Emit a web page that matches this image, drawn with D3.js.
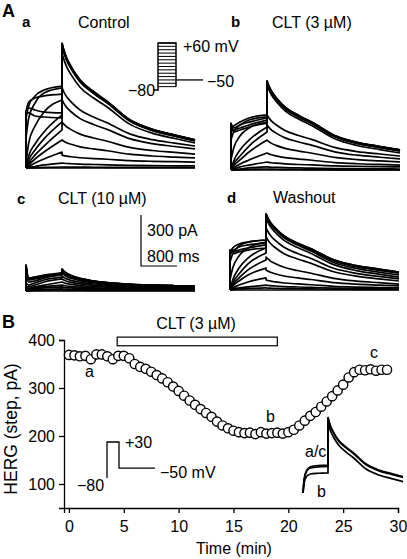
<!DOCTYPE html>
<html><head><meta charset="utf-8">
<script src="https://cdn.jsdelivr.net/npm/d3@7"></script>
<style>
body{margin:0;background:#fff}
svg{display:block;font-family:Arial,"Liberation Sans",Helvetica,sans-serif}
</style></head><body>
<svg id="chart" width="407" height="559"></svg>
<script>
// ---------- DATA ----------
// Panel A: voltage steps (mV) from -80 holding, tail at -50 mV
const stepVoltages = [-70,-60,-50,-40,-30,-20,-10,0,10,20,30,40,50,60];
// sample times (ms) in the step and in the tail
const stepTimes = [0,60,200,400,800];
const tailTimes = [0,40,100,200,400,700,1000,1500,2000,2500,2950];
// normalised tail decay profiles
const tailShapeSlow = [1,0.93,0.85,0.76,0.62,0.5,0.40,0.21,0.11,0.05,0];
const tailShapeFast = [1,0.88,0.75,0.62,0.45,0.30,0.20,0.10,0.05,0.02,0];

// Control (pA) — step current at stepTimes, tail peak and tail end per sweep
const ctrlStep = [
 [0,0,0,0,0],[0,0,2,4,6],[0,3,9,18,29],[0,9,29,53,94],[0,18,53,94,165],
 [0,29,76,129,224],[0,47,106,171,271],[0,71,141,212,312],[29,147,247,329,400],
 [176,294,382,441,471],[294,365,424,459,482],[329,388,412,424,435],
 [335,353,341,329,324],[324,324,306,300,294]];
const ctrlTailPeak = [0,6,29,76,165,271,400,471,676,718,729,735,729,724];
const ctrlTailEnd  = [0,3,12,35,59,82,112,129,147,159,165,165,165,159];

// CLT 3 µM
const clt3Step = [
 [0,0,0,0,0],[0,0,2,4,6],[0,2,6,12,18],[0,6,18,29,47],[0,12,35,59,100],
 [0,24,59,106,176],[0,35,82,141,224],[0,53,118,176,253],[59,129,200,247,282],
 [176,224,265,294,312],[247,259,282,306,324],[276,247,265,282,306],
 [271,235,247,265,294],[259,224,235,253,276]];
const clt3TailPeak = [0,6,18,47,100,176,265,324,500,518,524,524,518,512];
const clt3TailEnd  = [0,0,6,18,29,47,65,82,100,112,118,118,118,112];

// CLT 10 µM
const clt10Step = [
 [0,0,0,0,0],[0,2,3,5,6],[0,3,6,9,12],[0,6,12,18,24],[0,9,18,26,35],
 [12,15,24,35,53],[24,24,35,53,71],[47,35,47,65,82],[82,53,59,76,94],
 [118,65,71,82,100],[141,71,76,88,106],[153,76,82,94,106],
 [153,76,82,88,106],[147,71,76,82,100]];
const clt10TailPeak = [0,6,12,24,35,53,71,88,106,118,124,129,129,124];
const clt10TailEnd  = [0,3,6,9,12,15,18,21,24,26,29,29,29,29];

// Washout
const washStep = [
 [0,0,0,0,0],[0,2,6,9,12],[0,6,12,18,29],[0,12,29,47,71],[0,24,53,88,129],
 [0,29,71,118,176],[0,41,94,153,218],[0,59,129,188,247],[59,129,200,247,282],
 [165,212,259,282,294],[224,247,271,282,294],[235,235,253,265,276],
 [235,224,235,247,265],[224,212,224,235,247]];
const washTailPeak = [0,12,29,59,118,194,312,365,424,441,447,447,447,441];
const washTailEnd  = [0,3,6,12,24,35,53,65,76,88,100,106,106,100];

// Panel B: HERG step current time course (min, pA)
const timeMin = d3.range(0, 29.01, 0.5);
const hergStep = [369,368,366,367,360,370,370,366,360,367,367,362,350,344,340,334,327,320,312,303,
 294,284,274,265,256,248,240,230,222,216,211,208,206,207,204,208,205,206,207,205,
 208,213,222,232,242,250,261,272,283,295,307,322,333,338,337,339,336,338,338];
const drugBar = {label:"CLT (3 \u00B5M)", start:4.4, end:19.0};
const xTicks = [0,5,10,15,20,25,30];
const yTicks = [100,200,300,400];

// Panel B inset traces (a, b, c)
const insetStepTimes = [0,50,150,300,600,1000];
const insetStepA = [0,190,300,345,362,368];
const insetStepB = [0,140,220,250,260,265];
const insetStepC = [0,180,290,330,345,350];
const insetTailPeak = [1000,935,990];
const insetTailEnd = [216,150,205];

// ---------- DRAW ----------
const svg = d3.select("#chart");
const tScale = d3.scaleLinear().domain([0,3750]).range([0,169]);   // ms -> px
const iScale = d3.scaleLinear().domain([0,300]).range([0,51]);     // pA -> px
const curve = d3.line().curve(d3.curveMonotoneX);

function tracePath(x0,y0,step,peak,end,shape){
  const tx = t => x0 + tScale(t);
  const cy = v => y0 - iScale(v);
  const sp = stepTimes.map((t,i)=>[tx(t),cy(step[i])]);
  const tp = tailTimes.map((t,i)=>[tx(800+t),cy(end+(peak-end)*shape[i])]);
  return `M${tx(0)},${cy(0)}` + curve(sp).replace(/^M/,"L") + curve(tp).replace(/^M/,"L");
}

const panels = [
  {x0:26, y0:168, step:ctrlStep, peak:ctrlTailPeak, end:ctrlTailEnd, shape:tailShapeSlow},
  {x0:231,y0:170, step:clt3Step, peak:clt3TailPeak, end:clt3TailEnd, shape:tailShapeSlow},
  {x0:26, y0:291, step:clt10Step,peak:clt10TailPeak,end:clt10TailEnd,shape:tailShapeFast},
  {x0:230,y0:290, step:washStep, peak:washTailPeak, end:washTailEnd, shape:tailShapeSlow}
];
panels.forEach(p=>{
  const g = svg.append("g");
  stepVoltages.forEach((v,i)=>{
    g.append("path").attr("d",tracePath(p.x0,p.y0,p.step[i],p.peak[i],p.end[i],p.shape))
     .attr("fill","none").attr("stroke","#000").attr("stroke-width",1.7).attr("stroke-linejoin","round");
  });
});

function txt(x,y,s,opt={}){
  const t = svg.append("text").attr("x",x).attr("y",y).text(s)
    .attr("font-size",opt.size||16).attr("fill","#000");
  if(opt.bold) t.attr("font-weight","bold");
  if(opt.anchor) t.attr("text-anchor",opt.anchor);
  return t;
}
// panel labels
txt(2,17,"A",{size:18,bold:true});
txt(22,27,"a",{size:15,bold:true}); txt(78,28,"Control");
txt(231,27,"b",{size:15,bold:true}); txt(272,28,"CLT (3 \u00B5M)");
txt(17,204,"c",{size:15,bold:true}); txt(58,204,"CLT (10 \u00B5M)");
txt(227,203,"d",{size:15,bold:true}); txt(273,203,"Washout");

// voltage protocol inset (A)
const vA = d3.scaleLinear().domain([-80,60]).range([90,43]);
const ptA = d3.scaleLinear().domain([0,2000]).range([158,203]);
const pg = svg.append("g").attr("stroke","#000").attr("fill","none").attr("stroke-width",1);
stepVoltages.forEach(v=>{
  pg.append("line").attr("x1",ptA(0)).attr("x2",ptA(800)).attr("y1",vA(v)).attr("y2",vA(v));
});
pg.append("path").attr("d",`M${ptA(-200)},${vA(-80)}L${ptA(0)},${vA(-80)}L${ptA(0)},${vA(60)}L${ptA(800)},${vA(60)}L${ptA(800)},${vA(-70)}`).attr("stroke-width",1.5);
pg.append("line").attr("x1",ptA(800)).attr("x2",ptA(2000)).attr("y1",vA(-50)).attr("y2",vA(-50)).attr("stroke-width",1.3);
txt(183,52,"+60 mV");
txt(207,87,"\u221250");
txt(128,96,"\u221280");

// scale bar
const sbX = 141, sbY = 266;
svg.append("path").attr("d",`M${sbX},${sbY-iScale(300)}L${sbX},${sbY}L${sbX+tScale(800)},${sbY}`)
  .attr("fill","none").attr("stroke","#000").attr("stroke-width",1.2);
txt(147,236,"300 pA");
txt(147,262,"800 ms");

// ---------- Panel B ----------
txt(2,328,"B",{size:18,bold:true});
const x = d3.scaleLinear().domain([-0.45,30]).range([64,398]);
const y = d3.scaleLinear().domain([50,400]).range([508,340]);
const xAxis = svg.append("g").attr("transform","translate(0,508)")
  .call(d3.axisBottom(x).tickValues(xTicks).tickSizeOuter(0).tickSize(5).tickPadding(8));
const yAxis = svg.append("g").attr("transform","translate(64,0)")
  .call(d3.axisLeft(y).tickValues(yTicks).tickSizeOuter(0).tickSize(5).tickPadding(4));
[xAxis,yAxis].forEach(a=>{
  a.selectAll("text").attr("font-size",16).attr("font-family","Arial,'Liberation Sans',sans-serif").attr("fill","#000");
  a.selectAll("line,path").attr("stroke","#000").attr("stroke-width",1.3);
});
txt(234,554,"Time (min)",{anchor:"middle"});
svg.append("text").attr("transform","translate(17,429) rotate(-90)").attr("text-anchor","middle")
  .attr("font-size",17.5).text("HERG (step, pA)");

// drug bar
svg.append("rect").attr("x",x(drugBar.start)).attr("y",y(406)).attr("width",x(drugBar.end)-x(drugBar.start))
  .attr("height",y(388)-y(406)).attr("fill","#fff").attr("stroke","#000").attr("stroke-width",1.2);
txt(196,329,drugBar.label,{anchor:"middle"});

// data points
svg.append("g").selectAll("circle").data(timeMin.map((t,i)=>[t,hergStep[i]])).join("circle")
  .attr("cx",d=>x(d[0])).attr("cy",d=>y(d[1])).attr("r",4.6)
  .attr("fill","#fff").attr("stroke","#000").attr("stroke-width",1.4);
txt(85,377,"a"); txt(266,422,"b"); txt(370,358,"c");

// inset protocol B
const vB = d3.scaleLinear().domain([-80,30]).range([478,442]);
const ptB = d3.scaleLinear().domain([0,4000]).range([107,155]);
svg.append("path").attr("d",`M${ptB(0)},${vB(-80)}L${ptB(0)},${vB(30)}L${ptB(1000)},${vB(30)}L${ptB(1000)},${vB(-50)}L${ptB(4000)},${vB(-50)}`)
  .attr("fill","none").attr("stroke","#000").attr("stroke-width",1.3);
txt(125,448,"+30"); txt(77,491,"\u221280"); txt(160,478,"\u221250 mV");

// inset current traces B
const itx = d3.scaleLinear().domain([0,4000]).range([303,403]);
const iy = d3.scaleLinear().domain([0,1000]).range([493,417]);
[insetStepA,insetStepB,insetStepC].forEach((st,k)=>{
  const sp = insetStepTimes.map((t,i)=>[itx(t),iy(st[i])]);
  const tp = tailTimes.map((t,i)=>[itx(1000+t*3000/2950),iy(insetTailEnd[k]+(insetTailPeak[k]-insetTailEnd[k])*tailShapeSlow[i])]);
  svg.append("path").attr("d",curve(sp)+curve(tp).replace(/^M/,"L"))
    .attr("fill","none").attr("stroke","#000").attr("stroke-width",1.7);
});
txt(305,457,"a/c"); txt(317,497,"b");
</script>
</body></html>
